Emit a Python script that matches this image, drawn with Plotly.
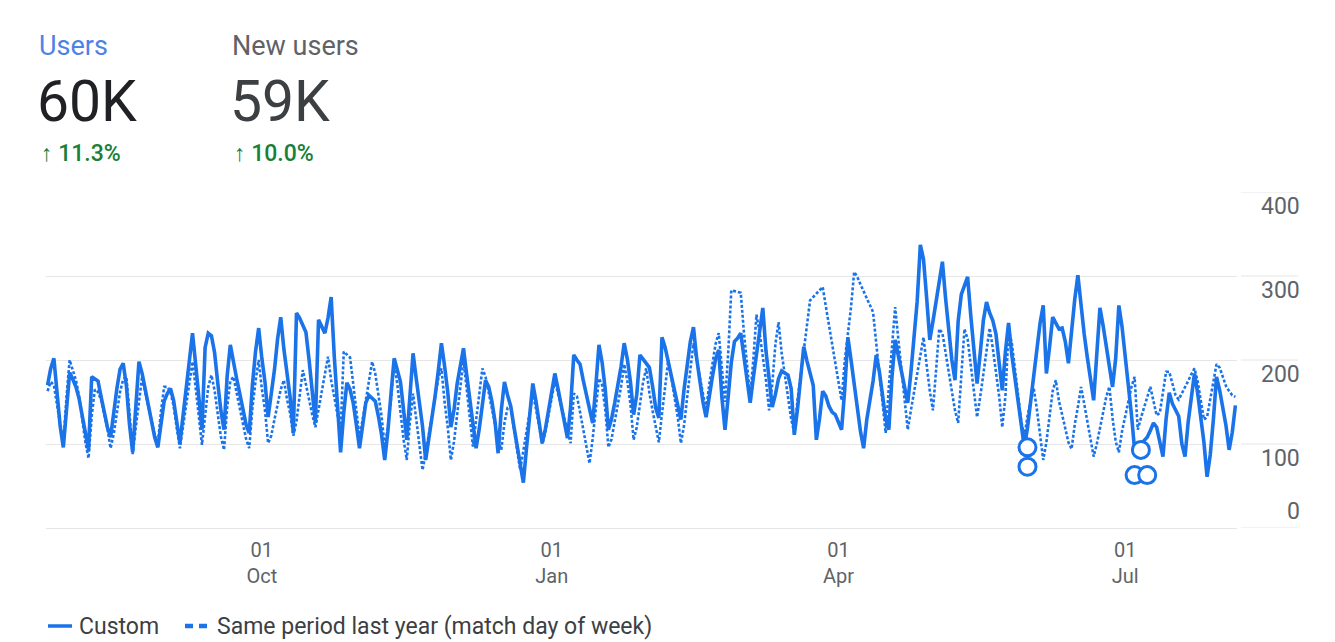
import pandas as pd
import plotly.graph_objects as go

# ---- data -------------------------------------------------------------
start_date = "2023-07-25"
n_days = 378

users_current = [
    170, 190, 202, 155, 121, 96, 146, 185, 177, 168, 154, 132, 109, 93, 180, 178, 175, 156, 139, 120,
    108, 141, 166, 189, 196, 170, 123, 90, 145, 198, 184, 165, 146, 127, 108, 96, 128, 151, 160, 166,
    152, 126, 101, 134, 166, 198, 232, 195, 155, 117, 215, 232, 229, 209, 173, 140, 117, 181, 218, 196,
    178, 160, 141, 123, 113, 170, 210, 238, 202, 174, 132, 160, 188, 225, 251, 213, 184, 155, 113, 256,
    250, 242, 233, 200, 159, 125, 248, 240, 232, 250, 275, 204, 139, 90, 137, 173, 165, 149, 123, 95,
    122, 149, 158, 155, 151, 133, 111, 81, 115, 160, 202, 188, 174, 140, 105, 157, 208, 178, 149, 121,
    81, 105, 128, 157, 187, 220, 193, 162, 120, 141, 172, 195, 214, 183, 156, 129, 95, 118, 150, 176,
    168, 151, 127, 89, 140, 174, 158, 145, 121, 99, 75, 54, 95, 132, 172, 151, 129, 101, 118, 139,
    161, 184, 166, 148, 129, 107, 144, 206, 200, 195, 176, 158, 140, 125, 169, 218, 197, 165, 117, 130,
    149, 170, 192, 220, 201, 174, 135, 159, 206, 201, 196, 191, 169, 143, 131, 227, 215, 197, 179, 161,
    143, 129, 165, 194, 222, 239, 202, 176, 150, 132, 159, 180, 201, 212, 156, 117, 156, 197, 222, 226,
    232, 205, 181, 149, 179, 209, 238, 262, 211, 179, 144, 159, 178, 187, 184, 182, 166, 111, 141, 183,
    216, 199, 185, 170, 105, 130, 163, 157, 145, 138, 135, 126, 117, 165, 227, 200, 170, 140, 115, 95,
    129, 152, 175, 206, 186, 158, 130, 117, 180, 224, 206, 188, 170, 149, 185, 228, 270, 337, 320, 274,
    224, 246, 270, 295, 317, 274, 234, 200, 176, 246, 278, 289, 299, 253, 214, 172, 208, 247, 269, 256,
    247, 231, 197, 164, 210, 244, 207, 181, 155, 129, 96, 119, 150, 181, 212, 244, 265, 184, 215, 251,
    244, 237, 238, 222, 196, 236, 272, 301, 261, 231, 203, 176, 152, 207, 262, 241, 218, 195, 168, 202,
    265, 240, 207, 172, 135, 93, 96, 100, 104, 108, 116, 125, 120, 100, 85, 130, 161, 148, 140, 133,
    100, 85, 126, 152, 184, 161, 131, 102, 61, 87, 129, 180, 164, 143, 122, 93, 114, 146,
]

users_last_year = [
    163, 174, 170, 145, 119, 100, 156, 200, 188, 176, 157, 130, 102, 83, 133, 165, 162, 152, 135, 118,
    95, 112, 137, 162, 177, 180, 137, 88, 120, 152, 180, 161, 144, 128, 111, 100, 139, 168, 168, 162,
    145, 119, 95, 121, 146, 171, 198, 167, 132, 99, 134, 168, 182, 164, 136, 109, 93, 144, 175, 180,
    161, 143, 124, 106, 95, 142, 175, 200, 166, 140, 101, 110, 129, 146, 165, 176, 153, 136, 110, 127,
    157, 188, 171, 152, 135, 120, 142, 164, 186, 204, 176, 154, 133, 115, 210, 206, 203, 172, 142, 108,
    129, 152, 175, 198, 184, 159, 133, 97, 119, 153, 196, 171, 138, 105, 81, 126, 160, 129, 100, 69,
    89, 111, 134, 156, 178, 190, 150, 120, 81, 103, 137, 172, 200, 166, 134, 97, 128, 159, 190, 180,
    162, 143, 124, 105, 93, 125, 143, 144, 118, 93, 69, 92, 114, 136, 160, 142, 123, 100, 115, 134,
    154, 175, 160, 145, 129, 114, 101, 160, 157, 138, 118, 99, 77, 106, 142, 178, 170, 141, 96, 106,
    127, 148, 168, 195, 175, 147, 105, 120, 146, 174, 190, 161, 140, 119, 102, 136, 166, 200, 178, 154,
    132, 101, 122, 156, 190, 220, 200, 179, 158, 140, 171, 195, 219, 232, 192, 150, 207, 283, 282, 281,
    280, 233, 194, 156, 201, 254, 232, 204, 176, 140, 171, 219, 245, 208, 182, 156, 130, 113, 152, 181,
    210, 240, 271, 275, 279, 283, 287, 264, 241, 217, 194, 170, 152, 199, 231, 263, 305, 299, 290, 282,
    273, 265, 257, 220, 182, 144, 113, 168, 214, 263, 225, 186, 148, 117, 140, 162, 184, 206, 227, 194,
    163, 140, 195, 237, 232, 209, 186, 163, 140, 125, 188, 237, 225, 194, 164, 132, 156, 183, 208, 238,
    214, 185, 157, 120, 157, 236, 221, 190, 159, 128, 108, 133, 151, 166, 141, 113, 81, 102, 132, 163,
    176, 151, 135, 119, 102, 94, 123, 144, 168, 148, 128, 108, 85, 100, 119, 138, 156, 168, 131, 103,
    90, 115, 133, 150, 168, 180, 117, 131, 144, 156, 168, 151, 134, 137, 161, 186, 186, 172, 158, 153,
    160, 167, 175, 183, 190, 175, 152, 129, 132, 153, 174, 195, 191, 179, 169, 163, 158, 156,
]

# annotation markers on the chart
note_dates = ["2024-05-31", "2024-05-31", "2024-07-06", "2024-07-04", "2024-07-08"]
note_values = [96, 73, 93, 63, 63]

x_tick_dates = ["2023-10-01", "2024-01-01", "2024-04-01", "2024-07-01"]
x_tick_labels = ["01<br>Oct", "01<br>Jan", "01<br>Apr", "01<br>Jul"]
y_ticks = [0, 100, 200, 300, 400]

metric_names = ["Users", "New users"]
metric_totals = ["60K", "59K"]
metric_changes = ["11.3%", "10.0%"]

series_names = ["Custom", "Same period last year (match day of week)"]

# ---- layout geometry ----------------------------------------------------
W, H = 1335, 642
L, R, T, B = 46, 98, 192, 114
PW, PH = W - L - R, H - T - B

BLUE = "#1a73e8"
GREY = "#5f6368"
FONT = "Roboto, Arial, sans-serif"


def px(x):
    return (x - L) / PW


def py(y):
    return (H - B - y) / PH


dates = pd.date_range(start_date, periods=n_days, freq="D")

fig = go.Figure()

fig.add_trace(go.Scatter(
    x=dates, y=users_last_year, mode="lines", name=series_names[1],
    line=dict(color=BLUE, width=2.6, dash="3px,2px"), hoverinfo="skip",
))
fig.add_trace(go.Scatter(
    x=dates, y=users_current, mode="lines", name=series_names[0],
    line=dict(color=BLUE, width=3.6), hoverinfo="skip",
))
fig.add_trace(go.Scatter(
    x=pd.to_datetime(note_dates), y=note_values, mode="markers",
    marker=dict(symbol="circle", size=17, color="white", line=dict(color=BLUE, width=3)),
    cliponaxis=False, hoverinfo="skip",
))

x0 = pd.Timestamp(start_date) - pd.Timedelta(hours=12)
x1 = dates[-1] + pd.Timedelta(hours=12)

shapes = []
# grid continues under the value labels on the right
for v in y_ticks:
    shapes.append(dict(type="line", xref="paper", yref="y", x0=px(1241), x1=px(1298),
                       y0=v, y1=v, line=dict(color="#e6e6e6", width=1)))

# legend swatches
shapes.append(dict(type="line", xref="paper", yref="paper", x0=px(48), x1=px(72),
                   y0=py(626), y1=py(626), line=dict(color=BLUE, width=3.5)))
for a, b in [(185, 193), (199, 207)]:
    shapes.append(dict(type="line", xref="paper", yref="paper", x0=px(a), x1=px(b),
                       y0=py(626), y1=py(626), line=dict(color=BLUE, width=4.5)))

annotations = []
for v in y_ticks:
    annotations.append(dict(
        xref="paper", yref="y", x=px(1302), y=v, text=str(v), showarrow=False,
        xanchor="right", yanchor="bottom" if v == 0 else "top",
        yshift=1,
        font=dict(family=FONT, size=23, color=GREY),
    ))

header_x = [38, 231]
name_colors = ["#4d82e6", GREY]
total_colors = ["#202124", "#3c4043"]
for i in range(2):
    annotations.append(dict(xref="paper", yref="paper", x=px(header_x[i] - 1), y=py(46),
                            text=metric_names[i], showarrow=False, xanchor="left", yanchor="middle",
                            font=dict(family=FONT, size=27, color=name_colors[i])))
    annotations.append(dict(xref="paper", yref="paper", x=px(header_x[i] - 3), y=py(101),
                            text=metric_totals[i], showarrow=False, xanchor="left", yanchor="middle",
                            font=dict(family=FONT, size=57, color=total_colors[i])))
    annotations.append(dict(xref="paper", yref="paper", x=px(header_x[i] + 1), y=py(153),
                            text="↑ " + metric_changes[i], showarrow=False, xanchor="left",
                            yanchor="middle",
                            font=dict(family=FONT, size=23, color="#188038", weight=500)))

annotations.append(dict(xref="paper", yref="paper", x=px(77), y=py(626), text=series_names[0],
                        showarrow=False, xanchor="left", yanchor="middle",
                        font=dict(family=FONT, size=23, color="#3c4043")))
annotations.append(dict(xref="paper", yref="paper", x=px(215), y=py(626), text=series_names[1],
                        showarrow=False, xanchor="left", yanchor="middle",
                        font=dict(family=FONT, size=23, color="#3c4043")))

fig.update_layout(
    width=W, height=H,
    margin=dict(l=L, r=R, t=T, b=B),
    paper_bgcolor="white", plot_bgcolor="white",
    showlegend=False,
    shapes=shapes,
    annotations=annotations,
    xaxis=dict(
        type="date", range=[x0, x1],
        tickvals=pd.to_datetime(x_tick_dates), ticktext=x_tick_labels,
        showgrid=False, showline=False, zeroline=False, ticks="",
        ticklabelstandoff=8,
        tickfont=dict(family=FONT, size=20, color=GREY),
    ),
    yaxis=dict(
        range=[0, 400], tickvals=y_ticks, showticklabels=False,
        showgrid=True, gridcolor="#e6e6e6", gridwidth=1,
        zeroline=True, zerolinecolor="#e6e6e6", zerolinewidth=1,
        showline=False, ticks="",
    ),
)

fig.write_html("out.html")
